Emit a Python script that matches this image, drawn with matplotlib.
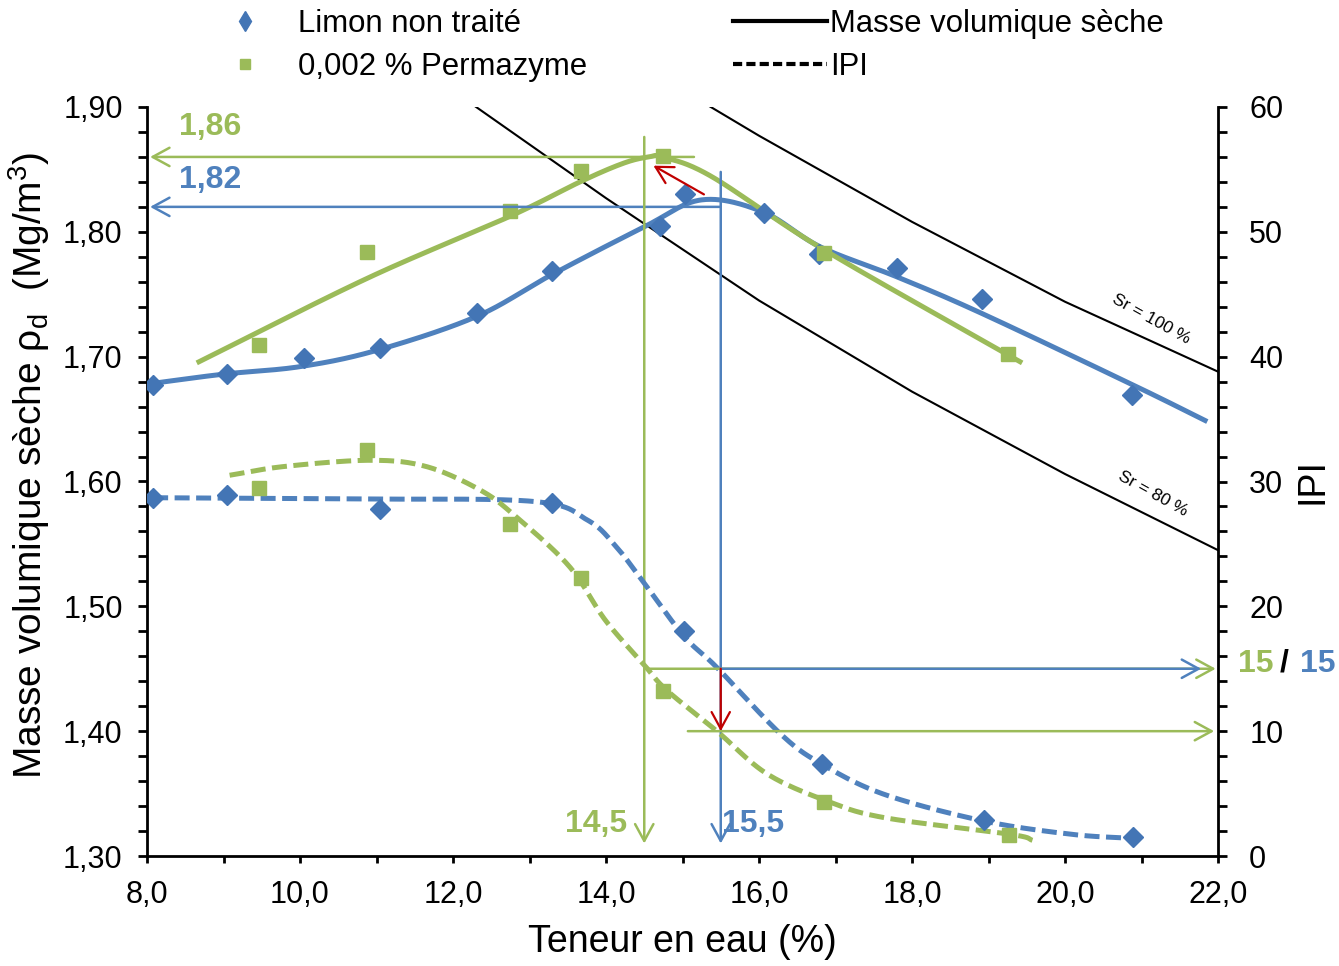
import numpy as np
import matplotlib
matplotlib.use("Agg")
import matplotlib.pyplot as plt
from matplotlib.lines import Line2D
from matplotlib.ticker import MultipleLocator, FuncFormatter

plt.rcParams['font.family'] = ['Liberation Sans', 'DejaVu Sans']
plt.rcParams['mathtext.fontset'] = 'custom'
plt.rcParams['mathtext.rm'] = 'Liberation Sans'

BLUE = '#4F81BD'
BLUE_MK = '#4375B5'
GREEN = '#9BBB59'
RED = '#C00000'

# --- measured points -------------------------------------------------------
# Dry density (Mg/m3) vs water content (%)
w_limon = [8.08, 9.04, 10.05, 11.05, 12.31, 13.29, 14.70, 15.03, 16.06, 16.79, 17.80, 18.91, 20.87]
rho_limon = [1.677, 1.686, 1.699, 1.707, 1.735, 1.769, 1.805, 1.830, 1.815, 1.782, 1.771, 1.746, 1.669]

w_perma = [9.47, 10.88, 12.74, 13.67, 14.75, 16.85, 19.25]
rho_perma = [1.709, 1.784, 1.817, 1.849, 1.861, 1.783, 1.702]

# Immediate bearing index vs water content (%)
w_ipi_limon = [8.08, 9.04, 11.05, 13.29, 15.02, 16.83, 18.94, 20.89]
ipi_limon = [28.7, 28.9, 27.8, 28.3, 18.0, 7.4, 2.9, 1.5]

w_ipi_perma = [9.47, 10.88, 12.74, 13.67, 14.75, 16.85, 19.27]
ipi_perma = [29.5, 32.5, 26.6, 22.3, 13.2, 4.3, 1.7]

# --- smoothed trend lines (knots) --------------------------------------------
fit_w_rho_limon = [8.0, 9.0, 10.0, 11.0, 12.3, 13.3, 14.5, 15.25, 16.05, 16.8, 17.8, 18.9, 20.9, 21.86]
fit_rho_limon = [1.678, 1.686, 1.692, 1.705, 1.732, 1.766, 1.804, 1.8256, 1.816, 1.788, 1.764, 1.735, 1.677, 1.648]

fit_w_rho_perma = [8.65, 10.88, 12.74, 13.67, 14.23, 14.56, 14.75, 15.38, 16.85, 19.44]
fit_rho_perma = [1.695, 1.7628, 1.8123, 1.8403, 1.855, 1.860, 1.8597, 1.8443, 1.7856, 1.695]

fit_w_ipi_limon = [8.08, 10.72, 13.06, 13.76, 14.13, 14.5, 15.02, 15.45, 16.29, 16.83, 17.64, 18.94, 20.1, 20.9]
fit_ipi_limon = [28.7, 28.6, 28.4, 26.9, 24.8, 21.85, 17.6, 15.1, 9.73, 7.33, 4.93, 2.8, 1.73, 1.41]

fit_w_ipi_perma = [9.08, 9.79, 10.91, 11.65, 12.36, 12.82, 13.52, 13.99, 14.5, 14.79, 15.45, 16.1, 16.89, 17.64, 19.29, 19.58]
fit_ipi_perma = [30.5, 31.2, 31.7, 31.2, 29.3, 27.2, 23.2, 18.9, 15.3, 13.3, 10.0, 6.6, 4.4, 3.07, 1.73, 1.25]

# Saturation lines
w_sat = [14.0, 16.0, 18.0, 20.0, 22.0]
rho_sr100 = [1.950, 1.877, 1.808, 1.744, 1.688]
w_sat80 = [12.0, 14.0, 16.0, 18.0, 20.0, 22.0]
rho_sr80 = [1.913, 1.827, 1.745, 1.672, 1.606, 1.545]

# Optimum readings
w_opt_perma, w_opt_limon = 14.5, 15.5
rho_opt_perma, rho_opt_limon = 1.86, 1.82
ipi_opt_perma, ipi_opt_limon = 15, 15
ipi_perma_at_limon_opt = 10

legend_markers = ['Limon non traité', '0,002 % Permazyme']
legend_lines = ['Masse volumique sèche', 'IPI']


def smooth(xs, ys, n=40):
    """Catmull-Rom curve through the knots."""
    pts = np.column_stack([xs, ys]).astype(float)
    p = np.vstack([2 * pts[0] - pts[1], pts, 2 * pts[-1] - pts[-2]])
    t = np.linspace(0, 1, n, endpoint=False)[:, None]
    segs = []
    for i in range(1, len(p) - 2):
        p0, p1, p2, p3 = p[i - 1], p[i], p[i + 1], p[i + 2]
        segs.append(0.5 * (2 * p1 + (-p0 + p2) * t + (2 * p0 - 5 * p1 + 4 * p2 - p3) * t ** 2
                           + (-p0 + 3 * p1 - 3 * p2 + p3) * t ** 3))
    segs.append(p[-2][None, :])
    c = np.vstack(segs)
    return c[:, 0], c[:, 1]


W, H = 1339, 966
fig = plt.figure(figsize=(W / 100, H / 100), dpi=100)
ax = fig.add_axes([147 / W, 1 - 856 / H, (1218 - 147) / W, (856 - 107) / H])
ax2 = ax.twinx()

comma = lambda fmt: FuncFormatter(lambda v, _: (fmt % v).replace('.', ','))

ax.set_xlim(8, 22)
ax.set_ylim(1.30, 1.90)
ax2.set_ylim(0, 60)

for a in (ax, ax2):
    a.spines['top'].set_visible(False)
    for s in a.spines.values():
        s.set_linewidth(2.0)
ax.spines['right'].set_visible(False)
ax2.spines['left'].set_visible(False)
ax2.spines['bottom'].set_visible(False)

ax.xaxis.set_major_locator(MultipleLocator(2))
ax.xaxis.set_minor_locator(MultipleLocator(1))
ax.yaxis.set_major_locator(MultipleLocator(0.1))
ax.yaxis.set_minor_locator(MultipleLocator(0.02))
ax2.yaxis.set_major_locator(MultipleLocator(10))
ax2.yaxis.set_minor_locator(MultipleLocator(2))
ax.xaxis.set_major_formatter(comma('%.1f'))
ax.yaxis.set_major_formatter(comma('%.2f'))
ax2.yaxis.set_major_formatter(comma('%.0f'))

ax.tick_params(axis='x', which='both', direction='out', length=5, width=2, labelsize=22, pad=12)
ax.tick_params(axis='y', which='both', direction='out', length=6.5, width=2, labelsize=22, pad=11)
ax2.tick_params(axis='y', which='both', direction='out', length=6.5, width=2, labelsize=22, pad=16)

ax.set_xlabel('Teneur en eau (%)', fontsize=27, labelpad=10)
ax.set_ylabel('Masse volumique sèche ρ$_\\mathregular{d}$  (Mg/m$^\\mathregular{3}$)', fontsize=28)
ax.yaxis.set_label_coords((52 - 147) / 1071, (856 - 465) / 749)
ax2.set_ylabel('IPI', fontsize=27, labelpad=8)

# saturation lines
ax.plot(w_sat, rho_sr100, color='black', lw=1.5, zorder=2)
ax.plot(w_sat80, rho_sr80, color='black', lw=1.5, zorder=2)
ax.text(21.12, 1.730, 'Sr = 100 %', fontsize=12.5, rotation=-29, ha='center', va='center')
ax.text(21.15, 1.5906, 'Sr = 80 %', fontsize=12.5, rotation=-29, ha='center', va='center')

# dry density trend lines and points
ax.plot(*smooth(fit_w_rho_limon, fit_rho_limon), color=BLUE, lw=3.6, solid_capstyle='butt', zorder=4)
ax.plot(*smooth(fit_w_rho_perma, fit_rho_perma), color=GREEN, lw=3.6, solid_capstyle='butt', zorder=4)
ax.plot(w_limon, rho_limon, ls='none', marker='D', ms=10.5, color=BLUE_MK, zorder=5)
ax.plot(w_perma, rho_perma, ls='none', marker='s', ms=9.5, color=GREEN, zorder=5)

# IPI trend lines and points
dash = (3.0, 1.3)
ax2.plot(*smooth(fit_w_ipi_limon, fit_ipi_limon), color=BLUE, lw=3.6, ls=(0, dash), zorder=4)
ax2.plot(*smooth(fit_w_ipi_perma, fit_ipi_perma), color=GREEN, lw=3.6, ls=(0, dash), zorder=4)
ax2.plot(w_ipi_limon, ipi_limon, ls='none', marker='D', ms=10.5, color=BLUE_MK, zorder=5)
ax2.plot(w_ipi_perma, ipi_perma, ls='none', marker='s', ms=9.5, color=GREEN, zorder=5)


def arrow(a, start, end, color, lw=1.8):
    a.annotate('', xy=end, xytext=start,
               arrowprops=dict(arrowstyle='->,head_length=0.55,head_width=0.3', color=color, lw=lw,
                               shrinkA=0, shrinkB=0, mutation_scale=22), zorder=6)


# optimum readings on the density axis
arrow(ax, (15.15, rho_opt_perma), (8.04, rho_opt_perma), GREEN)
arrow(ax, (w_opt_limon, rho_opt_limon), (8.04, rho_opt_limon), BLUE)
arrow(ax, (w_opt_perma, 1.876), (w_opt_perma, 1.310), GREEN)
arrow(ax, (w_opt_limon, 1.848), (w_opt_limon, 1.310), BLUE)
arrow(ax, (15.28, 1.830), (14.62, 1.853), RED, lw=1.6)

ann = dict(fontsize=23, fontweight='bold', va='center')
ax.text(8.82, 1.884, '1,86', color=GREEN, ha='center', **ann)
ax.text(8.82, 1.8417, '1,82', color=BLUE, ha='center', **ann)
ax.text(14.28, 1.326, '14,5', color=GREEN, ha='right', **ann)
ax.text(15.52, 1.326, '15,5', color=BLUE, ha='left', **ann)

# IPI readings
arrow(ax2, (w_opt_perma, ipi_opt_perma), (21.97, ipi_opt_perma), GREEN)
arrow(ax2, (w_opt_limon, ipi_opt_limon), (21.78, ipi_opt_limon), BLUE)
arrow(ax2, (15.07, ipi_perma_at_limon_opt), (21.95, ipi_perma_at_limon_opt), GREEN)
arrow(ax2, (w_opt_limon, ipi_opt_limon), (w_opt_limon, ipi_perma_at_limon_opt), RED, lw=1.6)

ax2.text(22.26, 15.4, '15', color=GREEN, ha='left', **ann)
ax2.text(22.80, 15.4, '/', color='black', ha='left', **ann)
ax2.text(23.07, 15.4, '15', color=BLUE, ha='left', **ann)

# legends
fs = 22.4
em = fs * 100 / 72
mk_handles = [Line2D([], [], ls='none', marker='d', ms=10, color=BLUE_MK),
              Line2D([], [], ls='none', marker='s', ms=7.5, color=GREEN)]
leg1 = fig.legend(mk_handles, legend_markers, loc='upper left', bbox_to_anchor=((245 - em) / W, 1 - 9 / H),
                  frameon=False, fontsize=fs, handlelength=2.0, handletextpad=(53 - em) / em,
                  borderpad=0, borderaxespad=0, labelspacing=0.41)
ln_handles = [Line2D([], [], color='black', lw=3),
              Line2D([], [], color='black', lw=3, ls=(0, (2.2, 1.0)))]
leg2 = fig.legend(ln_handles, legend_lines, loc='upper left', bbox_to_anchor=(733 / W, 1 - 9 / H),
                  frameon=False, fontsize=fs, handlelength=94 / em, handletextpad=3 / em,
                  borderpad=0, borderaxespad=0, labelspacing=0.41)

fig.savefig('out.png', dpi=100)
